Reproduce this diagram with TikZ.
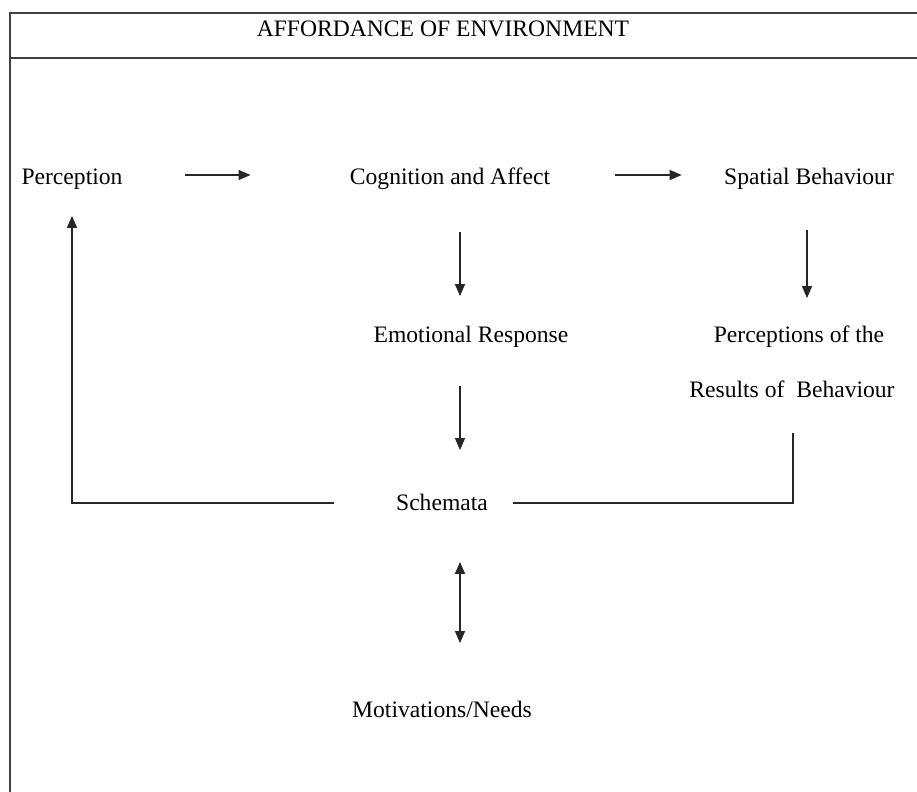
\documentclass[tikz,border=0pt]{standalone}
\usepackage{fontspec}
\setmainfont{Liberation Serif}
\usepackage{tikz}
\usetikzlibrary{arrows.meta,calc}

\begin{document}
\begin{tikzpicture}[
  x=0.5pt, y=-0.5pt,
  font=\fontsize{11.8}{14}\selectfont,
  txt/.style={inner sep=0pt, text height=10pt, text depth=2.5pt, align=center},
  frame/.style={line width=1pt, black!75},
  link/.style={line width=0.65pt, black!85},
  arr/.style={link, -{Triangle[length=6pt, width=5pt]}},
  darr/.style={link, {Triangle[length=6pt, width=5pt]}-{Triangle[length=6pt, width=5pt]}}
]
\useasboundingbox (0,0) rectangle (917,792);
% ---------------- frame and header
\draw[frame] (10,792) -- (10,13) -- (917,13);
\draw[frame] (10,58) -- (917,58);
\node[txt] (title) at (443,29) {AFFORDANCE OF ENVIRONMENT};
% ---------------- top row
\node[txt] (perc) at (72,177) {Perception};
\node[txt] (cog) at (450,177) {Cognition and Affect};
\node[txt] (spat) at (809,177) {Spatial Behaviour};
% ---------------- middle rows
\node[txt] (emo) at (471,335) {Emotional Response};
\node[txt] (res1) at (799,335) {Perceptions of the};
\node[txt] (res2) at (792,390) {Results of\ \ Behaviour};
\node[txt] (sch) at (442,503) {Schemata};
\node[txt] (mot) at (442,710) {Motivations/Needs};
% ---------------- arrows
\draw[arr, shorten <=31pt, shorten >=49.5pt] ([yshift=1pt]perc.east) -- ([yshift=1pt]cog.west);
\draw[arr, shorten <=32.5pt, shorten >=21pt] ([yshift=1pt]cog.east) -- ([yshift=1pt]spat.west);
\draw[arr, shorten <=21pt, shorten >=13pt] ([xshift=5pt]cog.south) -- ([xshift=5pt]cog.south |- emo.north);
\draw[arr, shorten <=20pt, shorten >=12pt] ([xshift=-1pt]spat.south) -- ([xshift=-1pt]spat.south |- res1.north);
\draw[arr, shorten <=19pt, shorten >=20pt] ([xshift=-5.5pt]emo.south) -- ([xshift=-5.5pt]emo.south |- sch.north);
\draw[darr, shorten <=23pt, shorten >=27pt] ([xshift=9pt]sch.south) -- ([xshift=9pt]sch.south |- mot.north);
\draw[arr, shorten <=31pt, shorten >=13pt] (sch.west) -| (perc.south);
\draw[link, shorten <=15pt, shorten >=12.5pt] ([xshift=0.5pt]res2.south) |- (sch.east);
\end{tikzpicture}
\end{document}
